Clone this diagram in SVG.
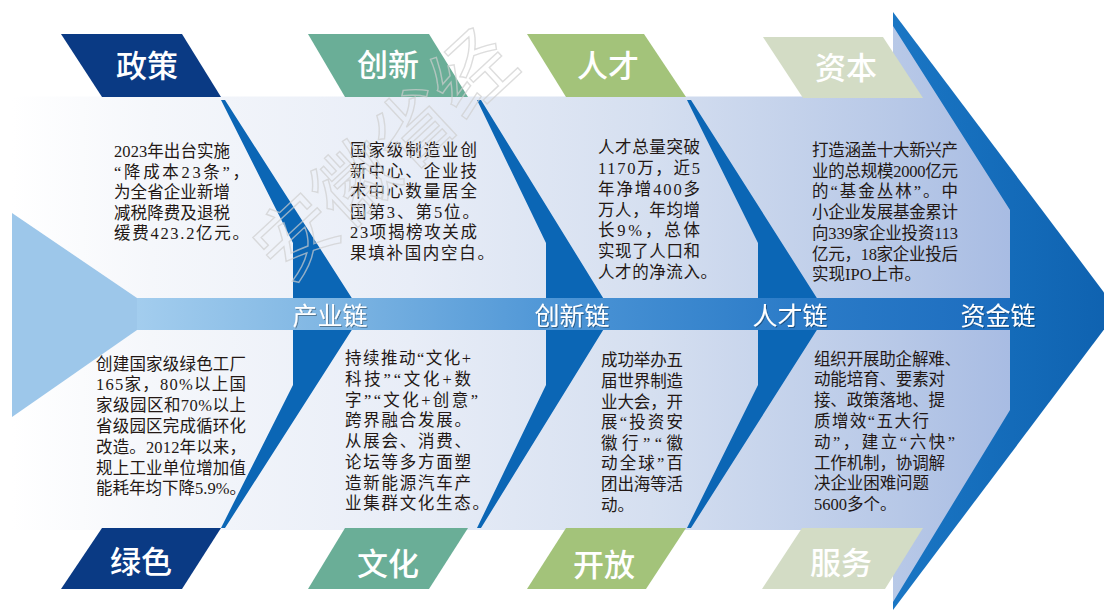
<svg xmlns="http://www.w3.org/2000/svg" width="1104" height="613" viewBox="0 0 1104 613">
<defs>
<linearGradient id="gPanel" gradientUnits="userSpaceOnUse" x1="12" y1="0" x2="1010" y2="0">
<stop offset="0" stop-color="#ffffff"/>
<stop offset="0.14" stop-color="#f5f7fb"/>
<stop offset="0.4" stop-color="#e8edf7"/>
<stop offset="0.64" stop-color="#d5dff0"/>
<stop offset="0.89" stop-color="#b7c8e7"/>
<stop offset="1" stop-color="#a8bce3"/>
</linearGradient>
<linearGradient id="gBand" gradientUnits="userSpaceOnUse" x1="137" y1="0" x2="1010" y2="0">
<stop offset="0" stop-color="#a3cdee"/>
<stop offset="0.22" stop-color="#7fb6e3"/>
<stop offset="0.5" stop-color="#4a93d5"/>
<stop offset="0.75" stop-color="#2c7cc8"/>
<stop offset="1" stop-color="#1c6dbf"/>
</linearGradient>
<linearGradient id="gArrow" gradientUnits="userSpaceOnUse" x1="893" y1="0" x2="1110" y2="0">
<stop offset="0" stop-color="#1a76c4"/>
<stop offset="1" stop-color="#0f62b0"/>
</linearGradient>
<filter id="sh" x="-10%" y="-20%" width="120%" height="140%">
<feDropShadow dx="1" dy="1" stdDeviation="0.6" flood-color="#000" flood-opacity="0.35"/>
</filter>
<style>
.body{font-family:'Liberation Serif','Noto Sans CJK SC',serif;font-size:16.5px;fill:#231815;}
.lab{font-family:'Noto Sans CJK SC',sans-serif;font-size:31px;font-weight:500;fill:#ffffff;text-anchor:middle;}
.chain{font-family:'Noto Sans CJK SC',sans-serif;font-size:25px;fill:#ffffff;text-anchor:middle;filter:url(#sh);}
.sep{fill:#0b66b5;}
.navy{fill:#0a3a84;}
.teal{fill:#6aae97;}
.green{fill:#a3c37a;}
.sage{fill:#d3dcc5;}
.wm{font-family:'Noto Sans CJK SC',sans-serif;font-size:80px;fill:none;stroke:#cfcfcf;stroke-width:1.4;opacity:0.7;}
</style>
</defs>

<g id="background">
<polygon id="arrow-head" points="893,12 1118,311 893,610" fill="url(#gArrow)"/>
<polygon id="panel" points="12,96.5 893,96.5 893,26 1010,210 1010,410 893,602 893,530 12,530" fill="url(#gPanel)"/>
</g>

<g id="connectors">
<polygon class="sep" points="221,100 225,100 362,314 225,528 221,528 293,385 293,243"/>
<polygon class="sep" points="477,100 481,100 613,314 481,528 477,528 546,385 546,243"/>
<polygon class="sep" points="687,100 691,100 827,314 691,528 687,528 758,385 758,243"/>
<polygon id="tail" points="12,213 137,298 137,330 12,417" fill="#9dc7ea"/>
<rect id="band" x="137" y="298" width="873" height="32" fill="url(#gBand)"/>
</g>

<g id="node-zhengce">
<polygon class="navy" points="61,34 182,34 221,97 102,97"/>
<text class="lab" x="147" y="77">政策</text>
</g>
<g id="node-chuangxin">
<polygon class="teal" points="308,34 429,34 468,97 345,97"/>
<text class="lab" x="388" y="76">创新</text>
</g>
<g id="node-rencai">
<polygon class="green" points="527,34 644,34 686,97 566,97"/>
<text class="lab" x="608" y="77">人才</text>
</g>
<g id="node-ziben">
<polygon class="sage" points="763,37 883,37 923,98 803,98"/>
<text class="lab" x="846" y="79">资本</text>
</g>
<g id="node-lvse">
<polygon class="navy" points="102,528 221,528 182,589 61,589"/>
<text class="lab" x="141" y="573">绿色</text>
</g>
<g id="node-wenhua">
<polygon class="teal" points="345,528 468,528 429,589 308,589"/>
<text class="lab" x="388" y="575">文化</text>
</g>
<g id="node-kaifang">
<polygon class="green" points="566,528 686,528 646,589 527,589"/>
<text class="lab" x="604" y="576">开放</text>
</g>
<g id="node-fuwu">
<polygon class="sage" points="802,528 923,528 885,589 762,589"/>
<text class="lab" x="841" y="574">服务</text>
</g>

<g id="chain-labels">
<text class="chain" x="330" y="325">产业链</text>
<text class="chain" x="572" y="325">创新链</text>
<text class="chain" x="790" y="325">人才链</text>
<text class="chain" x="998" y="325">资金链</text>
</g>

<g id="text-zhengce" class="body">
<text x="114" y="157" textLength="116" lengthAdjust="spacing">2023年出台实施</text>
<text x="114" y="177.5" textLength="135" lengthAdjust="spacing">“降成本23条”，</text>
<text x="114" y="198" textLength="116" lengthAdjust="spacing">为全省企业新增</text>
<text x="114" y="218.5" textLength="116" lengthAdjust="spacing">减税降费及退税</text>
<text x="114" y="239" textLength="135" lengthAdjust="spacing">缓费423.2亿元。</text>
</g>
<g id="text-chuangxin" class="body">
<text x="350" y="156" textLength="127" lengthAdjust="spacing">国家级制造业创</text>
<text x="350" y="176.6" textLength="127" lengthAdjust="spacing">新中心、企业技</text>
<text x="350" y="197.2" textLength="127" lengthAdjust="spacing">术中心数量居全</text>
<text x="350" y="217.8" textLength="129" lengthAdjust="spacing">国第3、第5位。</text>
<text x="350" y="238.4" textLength="127" lengthAdjust="spacing">23项揭榜攻关成</text>
<text x="350" y="259" textLength="144" lengthAdjust="spacing">果填补国内空白。</text>
</g>
<g id="text-rencai" class="body">
<text x="598" y="153" textLength="102" lengthAdjust="spacing">人才总量突破</text>
<text x="598" y="174" textLength="102" lengthAdjust="spacing">1170万，近5</text>
<text x="598" y="194.8" textLength="102" lengthAdjust="spacing">年净增400多</text>
<text x="598" y="215.6" textLength="102" lengthAdjust="spacing">万人，年均增</text>
<text x="598" y="236.4" textLength="102" lengthAdjust="spacing">长9%，总体</text>
<text x="598" y="257.2" textLength="102" lengthAdjust="spacing">实现了人口和</text>
<text x="598" y="278" textLength="119" lengthAdjust="spacing">人才的净流入。</text>
</g>
<g id="text-ziben" class="body">
<text x="812" y="156" textLength="146" lengthAdjust="spacing">打造涵盖十大新兴产</text>
<text x="812" y="176.7" textLength="146" lengthAdjust="spacing">业的总规模2000亿元</text>
<text x="812" y="197.4" textLength="146" lengthAdjust="spacing">的“基金丛林”。中</text>
<text x="812" y="218.1" textLength="146" lengthAdjust="spacing">小企业发展基金累计</text>
<text x="812" y="238.8" textLength="146" lengthAdjust="spacing">向339家企业投资113</text>
<text x="812" y="259.5" textLength="146" lengthAdjust="spacing">亿元，18家企业投后</text>
<text x="812" y="280.2">实现IPO上市。</text>
</g>
<g id="text-lvse" class="body">
<text x="96" y="369.5" textLength="150" lengthAdjust="spacing">创建国家级绿色工厂</text>
<text x="96" y="390.3" textLength="150" lengthAdjust="spacing">165家，80%以上国</text>
<text x="96" y="411.1" textLength="150" lengthAdjust="spacing">家级园区和70%以上</text>
<text x="96" y="431.9" textLength="150" lengthAdjust="spacing">省级园区完成循环化</text>
<text x="96" y="452.7" textLength="150" lengthAdjust="spacing">改造。2012年以来，</text>
<text x="96" y="473.5" textLength="150" lengthAdjust="spacing">规上工业单位增加值</text>
<text x="96" y="494.3" textLength="150" lengthAdjust="spacing">能耗年均下降5.9%。</text>
</g>
<g id="text-wenhua" class="body">
<text x="345" y="364.3" textLength="126" lengthAdjust="spacing">持续推动“文化+</text>
<text x="345" y="385" textLength="126" lengthAdjust="spacing">科技”“文化+数</text>
<text x="345" y="405.7" textLength="133" lengthAdjust="spacing">字”“文化+创意”</text>
<text x="345" y="426.4" textLength="126" lengthAdjust="spacing">跨界融合发展。</text>
<text x="345" y="447.1" textLength="126" lengthAdjust="spacing">从展会、消费、</text>
<text x="345" y="467.8" textLength="126" lengthAdjust="spacing">论坛等多方面塑</text>
<text x="345" y="488.5" textLength="126" lengthAdjust="spacing">造新能源汽车产</text>
<text x="345" y="509.2" textLength="144" lengthAdjust="spacing">业集群文化生态。</text>
</g>
<g id="text-kaifang" class="body">
<text x="601" y="366.3" textLength="82" lengthAdjust="spacing">成功举办五</text>
<text x="601" y="386.9" textLength="82" lengthAdjust="spacing">届世界制造</text>
<text x="601" y="407.5" textLength="82" lengthAdjust="spacing">业大会，开</text>
<text x="601" y="428.1" textLength="82" lengthAdjust="spacing">展“投资安</text>
<text x="601" y="448.7" textLength="82" lengthAdjust="spacing">徽行”“徽</text>
<text x="601" y="469.3" textLength="82" lengthAdjust="spacing">动全球”百</text>
<text x="601" y="489.9" textLength="82" lengthAdjust="spacing">团出海等活</text>
<text x="601" y="510.5">动。</text>
</g>
<g id="text-fuwu" class="body">
<text x="814" y="364.5" textLength="147" lengthAdjust="spacing">组织开展助企解难、</text>
<text x="814" y="385.3" textLength="131" lengthAdjust="spacing">动能培育、要素对</text>
<text x="814" y="406.1" textLength="131" lengthAdjust="spacing">接、政策落地、提</text>
<text x="814" y="426.9" textLength="115" lengthAdjust="spacing">质增效“五大行</text>
<text x="814" y="447.7" textLength="141" lengthAdjust="spacing">动”，建立“六快”</text>
<text x="814" y="468.5" textLength="131" lengthAdjust="spacing">工作机制，协调解</text>
<text x="814" y="489.3" textLength="115" lengthAdjust="spacing">决企业困难问题</text>
<text x="814" y="510.1">5600多个。</text>
</g>

<g id="watermark">
<text class="wm" transform="translate(287,285) rotate(-43)">安徽省经</text>
</g>
</svg>
